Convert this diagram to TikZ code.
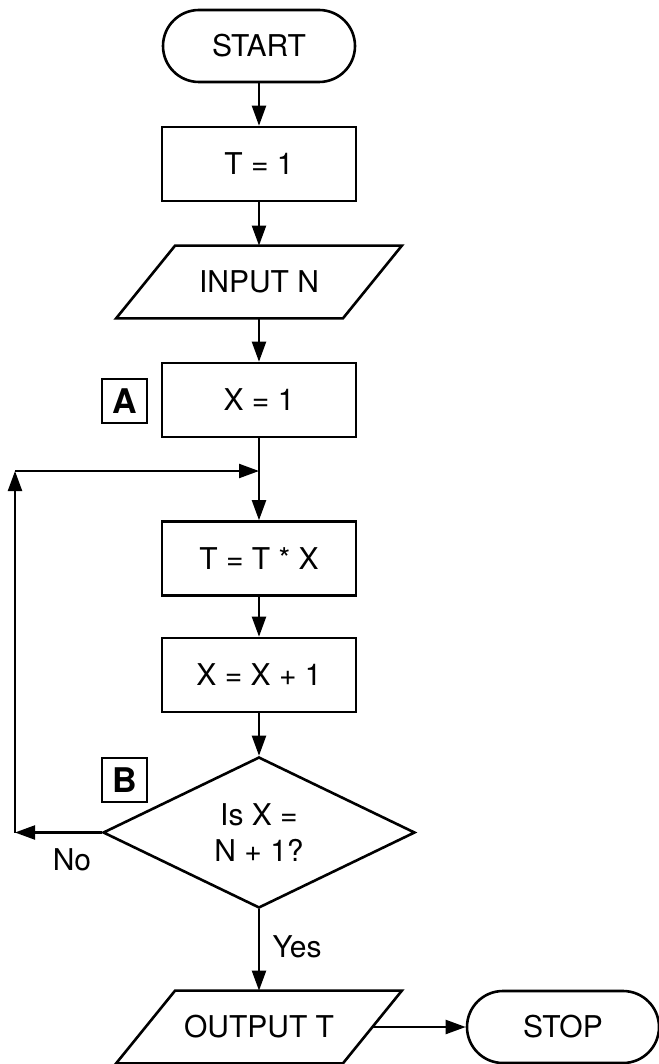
\documentclass[tikz,border=0pt]{standalone}
\usepackage{fontspec}
\setmainfont{TeX Gyre Heros}
\usetikzlibrary{shapes.geometric,arrows.meta}

\begin{document}
\begin{tikzpicture}[x=0.5pt,y=-0.5pt,
    every node/.style={font=\fontsize{15}{18}\selectfont},
    terminal/.style={draw,line width=1.3pt,rounded corners=18pt,minimum width=96pt,minimum height=36pt},
    process/.style={draw,line width=1.3pt,minimum width=97pt,minimum height=37pt},
    io/.style={inner sep=0pt,minimum width=113pt,minimum height=36pt},
    decision/.style={draw,line width=1.3pt,diamond,minimum width=156pt,minimum height=75.5pt,inner sep=0pt,align=center},
    tag/.style={draw,line width=0.8pt,minimum width=22.5pt,minimum height=22pt,inner sep=0pt,font=\fontsize{17}{20}\selectfont\bfseries},
    flow/.style={-{Triangle[length=10pt,width=7pt]},line width=1.1pt}]
            % Page frame
            \useasboundingbox (0,0) rectangle (658,1064);

            % Main column of steps
            \node[terminal] (start) at (259,46) {START};
            \node[process] (tone) at (259,164) {T = 1};
            \node[io] (inputn) at (259,282) {INPUT N};
            \node[process] (xone) at (259,400) {X = 1};
            \coordinate (join) at (259,471);
            \node[process] (times) at (259,558.5) {T = T * X};
            \node[process] (incr) at (259,675) {X = X + 1};
            \node[decision] (test) at (259,832.5) {Is X =\\N + 1?};
            \node[io] (outputt) at (259,1027) {OUTPUT T};
            \node[terminal] (stop) at (563,1027) {STOP};

            % Slanted outlines of the input/output steps
            \foreach \n in {inputn,outputt}
                \draw[line width=1.3pt] ([xshift=14.75pt]\n.north west) -- ([xshift=14.75pt]\n.north east)
                    -- ([xshift=-14.75pt]\n.south east) -- ([xshift=-14.75pt]\n.south west) -- cycle;

            % Marked points
            \node[tag] (tagA) at (124.5,401) {A};
            \node[tag] (tagB) at (124.5,780) {B};

            % Loop corners
            \coordinate (nolow) at (15,832.5);
            \coordinate (nohigh) at (15,471);

            % Arrows down the column
            \draw[flow] (start) -- (tone);
            \draw[flow] (tone) -- (inputn);
            \draw[flow] (inputn) -- (xone);
            \draw[line width=1.1pt] (xone) -- (join);
            \draw[flow] (join) -- (times);
            \draw[flow] (times) -- (incr);
            \draw[flow] (incr) -- (test);

            % No branch back to the loop
            \draw[flow] (test.west) -- (nolow);
            \draw[flow] (nolow) -- (nohigh);
            \draw[flow] (nohigh) -- (join);
            \node at (72,860) {No};

            % Yes branch
            \draw[flow] (test) -- (outputt);
            \node at (297,947) {Yes};
            \draw[flow] (outputt.east) -- (stop);
        \end{tikzpicture}
\end{document}
